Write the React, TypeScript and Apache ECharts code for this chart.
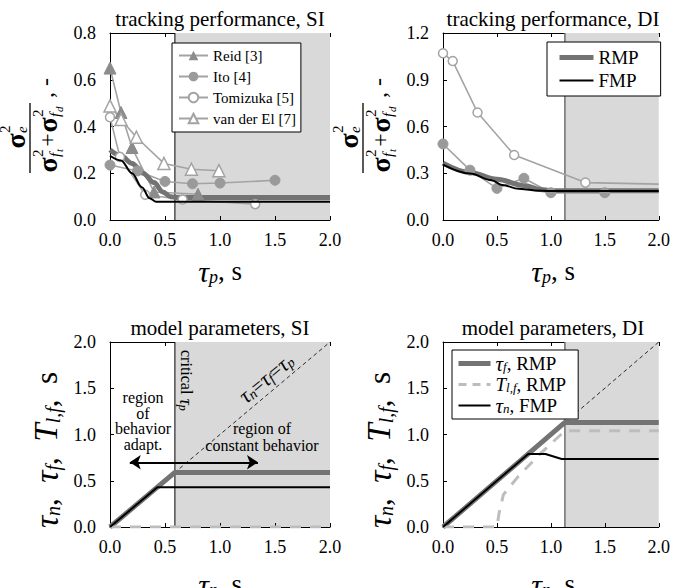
import React, { useEffect, useRef } from 'react';
import * as echarts from 'echarts';

const FAM = "'Liberation Serif', 'Times New Roman', serif";

// ---------- data ----------
const xTicks = { min: 0, max: 2, interval: 0.5 };
const siYAxis = { min: 0, max: 0.8, interval: 0.2 };
const diYAxis = { min: 0, max: 1.2, interval: 0.3 };
const parYAxis = { min: 0, max: 2, interval: 0.5 };

const criticalSI = 0.59;
const criticalDI = 1.13;

const reidSI = [[0, 0.65], [0.1, 0.46], [0.2, 0.31], [0.4, 0.12], [0.8, 0.11]];
const itoSI = [[0, 0.235], [0.25, 0.21], [0.5, 0.165], [0.75, 0.155], [1.0, 0.158], [1.5, 0.17]];
const tomizukaSI = [[0, 0.44], [0.09, 0.27], [0.32, 0.108], [0.66, 0.088], [1.32, 0.068]];
const vanDerElSI = [[0, 0.488], [0.1, 0.43], [0.24, 0.354], [0.49, 0.242], [0.74, 0.217], [0.99, 0.211]];
const rmpSI = [[0, 0.3], [0.1, 0.275], [0.2, 0.242], [0.3, 0.2], [0.4, 0.16], [0.48, 0.12], [0.55, 0.1], [0.62, 0.096], [2, 0.096]];
const fmpSI = [[0, 0.275], [0.1, 0.255], [0.2, 0.2], [0.29, 0.14], [0.36, 0.093], [0.42, 0.078], [2, 0.078]];

const itoDI = [[0, 0.488], [0.25, 0.32], [0.5, 0.203], [0.75, 0.268], [1.0, 0.175], [1.5, 0.175]];
const tomizukaDI = [[0, 1.07], [0.09, 1.02], [0.32, 0.69], [0.66, 0.417], [1.32, 0.24]];
const tomizukaDITail = [2.0, 0.23];
const rmpDI = [[0, 0.365], [0.25, 0.305], [0.5, 0.262], [0.75, 0.222], [0.9, 0.196], [1.0, 0.188], [2, 0.188]];
const fmpDI = [[0, 0.355], [0.25, 0.298], [0.45, 0.255], [0.55, 0.225], [0.7, 0.2], [0.85, 0.19], [1.0, 0.186], [2, 0.186]];

const identityLine = [[0, 0], [2, 2]];
const tauF_SI = [[0, 0], [0.59, 0.59], [2, 0.59]];
const tlf_SI = [[0, 0], [2, 0]];
const tauN_SI = [[0, 0], [0.43, 0.43], [2, 0.43]];
const tauF_DI = [[0, 0], [1.13, 1.13], [2, 1.13]];
const tlf_DI = [[0, 0], [0.5, 0], [0.52, 0.15], [0.56, 0.35], [0.7, 0.55], [0.9, 0.79], [1.13, 1.04], [2, 1.04]];
const tauN_DI = [[0, 0], [0.79, 0.79], [0.95, 0.79], [1.1, 0.735], [2, 0.735]];

const arrowY = 0.7;
const arrowX = [0.18, 1.345];

// ---------- styles ----------
const GRIDS = [
  { left: 110, top: 33, width: 220, height: 187 },
  { left: 443, top: 33, width: 220, height: 187 },
  { left: 110, top: 342, width: 220, height: 185 },
  { left: 443, top: 342, width: 220, height: 185 },
];
const SHADE = '#d9d9d9';
const MARK_LINE = '#a3a3a3';
const RMP_COLOR = '#737373';
const TLF_COLOR = '#bdbdbd';

function buildOption() {
  const yCfg = [siYAxis, diYAxis, parYAxis, parYAxis];
  const xAxis: any[] = [];
  const yAxis: any[] = [];
  const tickLabel = (margin: number) => ({
    fontFamily: FAM, fontSize: 18, color: '#000', margin, formatter: (v: number) => v.toFixed(1),
  });
  GRIDS.forEach((g, i) => {
    xAxis.push({
      type: 'value', gridIndex: i, ...xTicks, z: 3,
      axisLine: { show: true, lineStyle: { color: '#000', width: 1 } },
      axisTick: { show: true, inside: true, length: 4, lineStyle: { color: '#000' } },
      axisLabel: tickLabel(11),
      splitLine: { show: false },
    });
    xAxis.push({
      type: 'value', gridIndex: i, position: 'top', ...xTicks, z: 0,
      axisLine: { show: true, lineStyle: { color: '#000', width: 1 } },
      axisTick: { show: true, inside: true, length: 4, lineStyle: { color: '#000' } },
      axisLabel: { show: false },
      splitLine: { show: false },
    });
    yAxis.push({
      type: 'value', gridIndex: i, ...yCfg[i], z: 3,
      axisLine: { show: true, lineStyle: { color: '#000', width: 1 } },
      axisTick: { show: true, inside: true, length: 4, lineStyle: { color: '#000' } },
      axisLabel: tickLabel(14),
      splitLine: { show: false },
    });
  });

  const ax = (i: number) => ({ xAxisIndex: 2 * i, yAxisIndex: i });
  const base = { type: 'line', silent: true, emphasis: { disabled: true } };

  const critical = (i: number, x: number, ymax: number, color: string, width: number) => ({
    ...base, ...ax(i), name: 'critical' + i, data: [[x, 0], [x, ymax]], symbol: 'none',
    lineStyle: { color, width }, z: 2,
    markArea: { silent: true, itemStyle: { color: SHADE }, data: [[{ xAxis: x }, { xAxis: 2 }]] },
  });

  const marker = (i: number, name: string, data: any[], symbol: string, filled: boolean, size: number, fill = '#909090') => ({
    ...base, ...ax(i), name, data, symbol, symbolSize: size,
    lineStyle: { color: MARK_LINE, width: 1.6 },
    itemStyle: filled ? { color: fill, borderColor: fill } : { color: '#fff', borderColor: MARK_LINE, borderWidth: 1.5 },
  });

  const curve = (i: number, name: string, data: any[], color: string, width: number, smooth: any = false, z = 3, type: any = 'solid') => ({
    ...base, ...ax(i), name, data, symbol: 'none', smooth, smoothMonotone: 'x',
    lineStyle: { color, width, type }, itemStyle: { color }, z,
  });

  const series: any[] = [
    critical(0, criticalSI, 0.8, '#000', 1),
    marker(0, 'Reid [3]', reidSI, 'triangle', true, 12, '#8c8c8c'),
    marker(0, 'Ito [4]', itoSI, 'circle', true, 10, '#9a9a9a'),
    marker(0, 'Tomizuka [5]', tomizukaSI, 'circle', false, 9),
    marker(0, 'van der El [7]', vanDerElSI, 'triangle', false, 12),
    curve(0, 'RMP SI', rmpSI, RMP_COLOR, 5, 0.35),
    curve(0, 'FMP SI', fmpSI, '#000', 2, 0.35, 4),

    critical(1, criticalDI, 1.2, '#6e6e6e', 1.5),
    marker(1, 'Ito DI', itoDI, 'circle', true, 10, '#9a9a9a'),
    marker(1, 'Tomizuka DI', [...tomizukaDI, { value: tomizukaDITail, symbol: 'none' }], 'circle', false, 9),
    curve(1, 'RMP', rmpDI, RMP_COLOR, 5, 0.35),
    curve(1, 'FMP', fmpDI, '#000', 2, 0.35, 4),

    {
      ...critical(2, criticalSI, 2, '#000', 1),
      markLine: {
        silent: true, symbol: ['arrow', 'arrow'], symbolSize: 11,
        label: { show: false }, lineStyle: { color: '#000', width: 2, type: 'solid' },
        data: [[{ coord: [arrowX[0], arrowY] }, { coord: [arrowX[1], arrowY] }]],
      },
    },
    curve(2, 'identity SI', identityLine, '#000', 0.8, false, 2, [4, 3]),
    curve(2, 'tauF SI', tauF_SI, RMP_COLOR, 5),
    curve(2, 'tlf SI', tlf_SI, TLF_COLOR, 3, false, 4, [11, 9]),
    curve(2, 'tauN SI', tauN_SI, '#000', 2, false, 4),

    critical(3, criticalDI, 2, '#6e6e6e', 1.5),
    curve(3, 'identity DI', identityLine, '#000', 0.8, false, 2, [4, 3]),
    curve(3, 'tauF', tauF_DI, RMP_COLOR, 5),
    curve(3, 'tlf', tlf_DI, TLF_COLOR, 3, false, 4, [11, 9]),
    curve(3, 'tauN', tauN_DI, '#000', 2, false, 4),
  ];

  const legendBase = {
    orient: 'vertical', backgroundColor: '#fff', borderColor: '#000', borderWidth: 1, borderRadius: 0,
    selectedMode: false, itemWidth: 29, itemHeight: 12, z: 20,
  };
  const lineItem = (name: string, width: number, color: string, type: any = 'solid') => ({
    name, itemStyle: { opacity: 0 }, lineStyle: { width, color, type },
  });
  const legend = [
    {
      ...legendBase, data: ['Reid [3]', 'Ito [4]', 'Tomizuka [5]', 'van der El [7]'],
      left: 172, top: 43, padding: [5, 5, 6, 6], itemGap: 6,
      textStyle: { fontFamily: FAM, fontSize: 15, color: '#000', lineHeight: 14 },
    },
    {
      ...legendBase, data: [lineItem('RMP', 5, RMP_COLOR), lineItem('FMP', 2, '#000')],
      left: 547, top: 42, padding: [6, 22, 6, 10], itemGap: 4, itemWidth: 34,
      textStyle: { fontFamily: FAM, fontSize: 19, color: '#000', lineHeight: 16 },
    },
    {
      ...legendBase, data: [lineItem('tauF', 5, RMP_COLOR), lineItem('tlf', 3, TLF_COLOR, [8, 6]), lineItem('tauN', 2, '#000')],
      left: 452, top: 350, padding: [3, 12, 3, 4], itemGap: 1, itemWidth: 32,
      formatter: (n: string) => (({ tauF: '{t|τ}{s|f}{n|, RMP}', tlf: '{T|T}{s|l,f}{n|, RMP}', tauN: '{t|τ}{s|n}{n|, FMP}' } as any)[n]),
      textStyle: {
        fontFamily: FAM, fontSize: 19, color: '#000',
        rich: {
          t: { fontFamily: FAM, fontSize: 21, fontStyle: 'italic', lineHeight: 18 },
          T: { fontFamily: FAM, fontSize: 19, fontStyle: 'italic', lineHeight: 18 },
          s: { fontFamily: FAM, fontSize: 13, fontStyle: 'italic', lineHeight: 9, verticalAlign: 'bottom' },
          n: { fontFamily: FAM, fontSize: 19, lineHeight: 18 },
        },
      },
    },
  ];

  // ---------- graphic texts ----------
  const fontProps = (size: number, italic = false, bold = false) => ({
    fontFamily: FAM, fontSize: size, fontStyle: italic ? 'italic' : 'normal', fontWeight: bold ? 'bold' : 'normal',
  });
  const text = (x: number, y: number, t: string, size: number, extra: any = {}, italic = false, bold = false) => ({
    type: 'text', x, y, silent: true, z: 50, ...extra,
    style: {
      text: t, ...fontProps(size, italic, bold), fill: '#000',
      align: 'center', verticalAlign: 'middle', textAlign: 'center', textVerticalAlign: 'middle', ...(extra.style || {}),
    },
  });
  const richText = (x: number, y: number, t: string, rich: any, rotation = 0, align = 'center') => ({
    type: 'text', x, y, rotation, silent: true, z: 50,
    style: {
      text: t, rich, fontFamily: FAM, fontSize: 20, fill: '#000',
      align, verticalAlign: 'middle', textAlign: align, textVerticalAlign: 'middle',
    },
  });

  const tok = (size: number, italic: boolean, lh: number, va?: string) => ({
    fontFamily: FAM, fontSize: size, fontStyle: italic ? 'italic' : 'normal', lineHeight: lh, ...(va ? { verticalAlign: va } : {}),
  });
  const tauRich = { t: tok(30, true, 30), s: tok(18, true, 14, 'bottom'), n: tok(27, false, 30) };
  const parRich = { t: tok(34, true, 34), T: tok(33, true, 34), s: tok(20, true, 16, 'bottom'), n: tok(31, false, 34) };
  const subRich = (size: number, sub: number) => ({ t: tok(size, true, size), s: tok(sub, true, sub * 0.8, 'bottom'), n: tok(size - 2, false, size) });

  const fracLabel = (cx: number, cy: number) => {
    const sig = (x: number, y: number) => text(x, y, 'σ', 28, {}, false, true);
    const sm = (x: number, y: number, t: string, italic = false, size = 15) =>
      text(x, y, t, size, { style: { align: 'left', textAlign: 'left' } }, italic);
    return {
      type: 'group', x: cx, y: cy, rotation: Math.PI / 2, silent: true, z: 50,
      children: [
        { type: 'line', shape: { x1: -38, y1: 0, x2: 32, y2: 0 }, style: { stroke: '#000', lineWidth: 1.3 } },
        sig(-6, -15), sm(2, -25, '2'), sm(2, -8, 'e', true),
        sig(-30, 17), sm(-22, 8, '2'), sm(-22, 25, 'f', true), sm(-17, 29, 't', true, 11),
        text(-5, 17, '+', 24),
        sig(10, 17), sm(18, 8, '2'), sm(18, 25, 'f', true), sm(23, 29, 'd', true, 11),
        text(37, 15, ', -', 24, { style: { align: 'left', textAlign: 'left' } }),
      ],
    };
  };

  const graphic = [
    text(220, 19, 'tracking performance, SI', 21),
    text(553, 19, 'tracking performance, DI', 21),
    text(220, 328, 'model parameters, SI', 21),
    text(553, 328, 'model parameters, DI', 21),
    richText(220, 271, '{t|τ}{s|p}{n|, s}', tauRich),
    richText(553, 271, '{t|τ}{s|p}{n|, s}', tauRich),
    richText(220, 584, '{t|τ}{s|p}{n|, s}', tauRich),
    richText(553, 584, '{t|τ}{s|p}{n|, s}', tauRich),
    fracLabel(30, 135),
    fracLabel(363, 135),
    richText(46, 450, '{t|τ}{s|n}{n|,  }{t|τ}{s|f}{n|,  }{T|T}{s|l,f}{n|,  s}', parRich, Math.PI / 2),
    richText(379, 450, '{t|τ}{s|n}{n|,  }{t|τ}{s|f}{n|,  }{T|T}{s|l,f}{n|,  s}', parRich, Math.PI / 2),
    text(143, 421, 'region\nof\nbehavior\nadapt.', 16, { style: { lineHeight: 15.5 } }),
    text(262, 437, 'region of\nconstant behavior', 16, { style: { lineHeight: 17 } }),
    richText(186, 350, '{n|critical }{t|τ}{s|p}', subRich(18, 12), -Math.PI / 2, 'left'),
    richText(266, 378, '{t|τ}{s|n}{n|=}{t|τ}{s|f}{n|=}{t|τ}{s|p}', subRich(22, 14), (40 * Math.PI) / 180),
  ];

  return {
    animation: false,
    backgroundColor: '#fff',
    textStyle: { fontFamily: FAM, color: '#000' },
    grid: GRIDS.map((g) => ({ ...g, containLabel: false })),
    xAxis, yAxis, series, legend, graphic,
  };
}

export default function App() {
  const ref = useRef<HTMLDivElement>(null);
  useEffect(() => {
    if (!ref.current) return;
    const chart = echarts.init(ref.current, undefined, { renderer: 'svg' });
    chart.setOption(buildOption() as any);
    return () => chart.dispose();
  }, []);
  return <div ref={ref} style={{ position: 'absolute', left: 0, top: 0, width: 673, height: 588 }} />;
}
